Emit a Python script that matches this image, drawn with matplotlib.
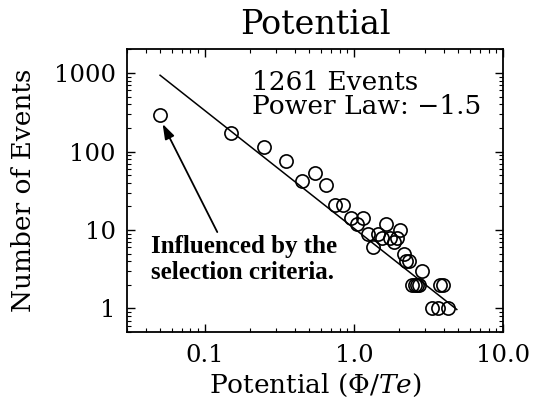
import matplotlib
matplotlib.use("Agg")
import matplotlib.pyplot as plt
import numpy as np

# ---- data ----
potential = [0.05, 0.15, 0.25, 0.35, 0.45, 0.55, 0.65, 0.75, 0.85, 0.95,
             1.05, 1.15, 1.25, 1.35, 1.45, 1.55, 1.65, 1.75, 1.85, 1.95,
             2.05, 2.15, 2.25, 2.35, 2.45, 2.55, 2.65, 2.75, 2.85,
             3.35, 3.65, 3.75, 3.95, 4.25]
n_events = [290, 170, 113, 75, 42, 53, 37, 21, 21, 14,
            12, 14, 9, 6, 9, 8, 12, 8, 7, 8,
            10, 5, 4, 4, 2, 2, 2, 2, 3,
            1, 1, 2, 2, 1]

fit_range = [0.05, 4.9]
power_law_index = -1.5
fit_amplitude = 10.5

x_ticks = [0.1, 1.0, 10.0]
x_ticklabels = ["0.1", "1.0", "10.0"]
y_ticks = [1, 10, 100, 1000]
y_ticklabels = ["1", "10", "100", "1000"]

plt.rcParams['font.family'] = ['DejaVu Serif']
plt.rcParams['mathtext.fontset'] = 'dejavuserif'

fig = plt.figure(figsize=(5.33, 4.07), dpi=100)
ax = fig.add_axes([0.2383, 0.1843, 0.7054, 0.6941])

ax.set_xscale('log')
ax.set_yscale('log')
ax.set_xlim(0.03, 10)
ax.set_ylim(0.5, 2000)

fx = np.array(fit_range)
ax.plot(fx, fit_amplitude * fx ** power_law_index, color='black', lw=1.1)
ax.plot(potential, n_events, linestyle='none', marker='o', markersize=9.5,
        markerfacecolor='none', markeredgecolor='black', markeredgewidth=1.2)

ax.set_xticks(x_ticks)
ax.set_xticklabels(x_ticklabels)
ax.set_yticks(y_ticks)
ax.set_yticklabels(y_ticklabels)
ax.tick_params(which='both', direction='in', top=True, right=True,
               labelsize=17.5)
ax.tick_params(which='major', length=6, width=1)
ax.tick_params(which='minor', length=3, width=0.8)
ax.tick_params(axis='x', pad=9)
ax.tick_params(axis='y', pad=8)
for s in ax.spines.values():
    s.set_linewidth(1.3)

ax.set_title('Potential', fontsize=24, pad=11)
ax.set_xlabel(r'Potential ($\Phi/Te$)', fontsize=19, labelpad=3)
ax.set_ylabel('Number of Events', fontsize=19, labelpad=13)

ax.text(0.332, 0.772, '1261 Events\nPower Law: \u22121.5',
        transform=ax.transAxes, fontsize=19, linespacing=0.93,
        ha='left', va='baseline')

ax.text(0.064, 0.187, 'Influenced by the\nselection criteria.',
        transform=ax.transAxes, fontsize=18, fontweight='bold',
        family='Liberation Serif', linespacing=1.17,
        ha='left', va='baseline')

ax.annotate('', xy=(0.052, 225), xytext=(0.121, 9.4),
            arrowprops=dict(arrowstyle='-|>,head_length=0.9,head_width=0.3',
                            color='black', lw=1.3, shrinkA=0, shrinkB=0))

fig.savefig('out.png', dpi=100)
